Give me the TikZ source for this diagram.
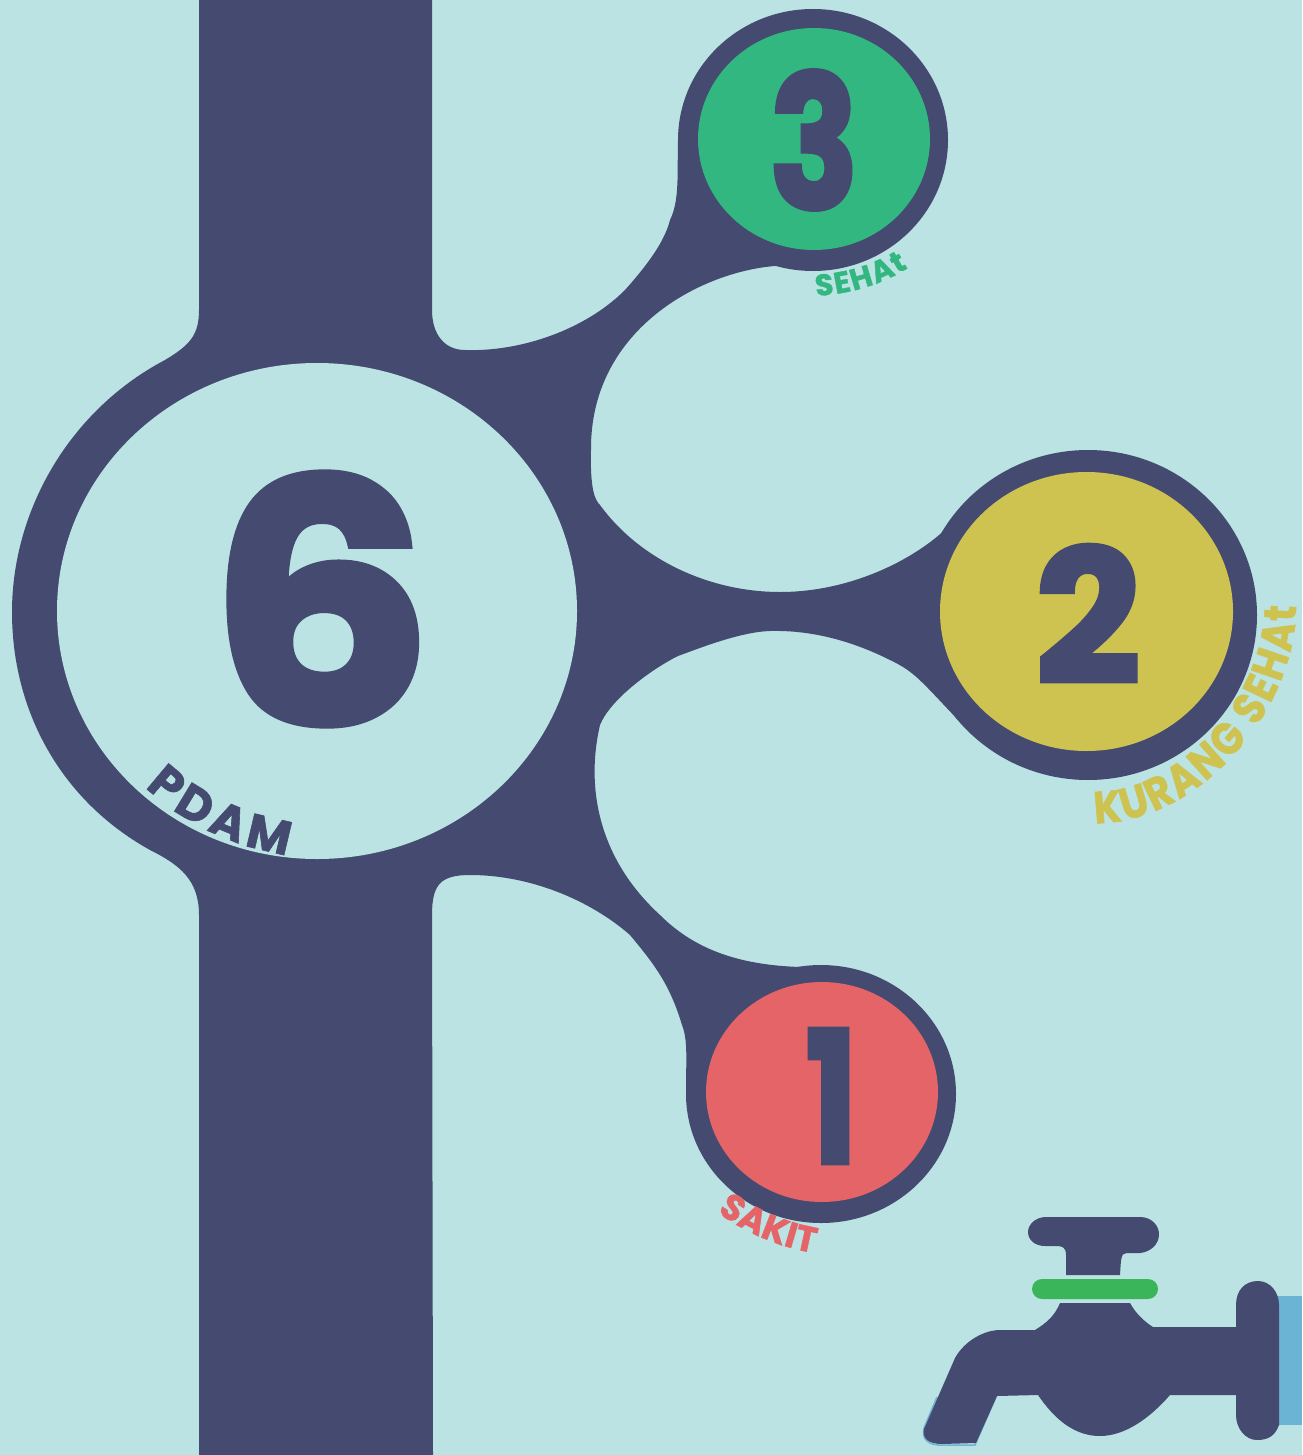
\documentclass[tikz,border=0pt]{standalone}
\usepackage{fontspec}
\setmainfont{Poppins}
\newfontfamily\digitfont[FakeBold=2.5]{Poppins}
\newfontfamily\labelfont[FakeBold=1.2]{Poppins}
\newfontfamily\narrowfont[FakeBold=1.2,FakeStretch=0.88]{Poppins}
\usetikzlibrary{decorations.text}
\definecolor{bgc}{HTML}{BBE3E3}
\definecolor{navy}{HTML}{444A70}
\definecolor{sehat}{HTML}{32B781}
\definecolor{kurang}{HTML}{CEC350}
\definecolor{sakit}{HTML}{E46468}
\definecolor{ringc}{HTML}{3AB55A}
\definecolor{pipec}{HTML}{6CB4D4}
\newcommand{\lblfont}[1]{\fontsize{#1}{#1}\selectfont\labelfont\bfseries}
\newcommand{\nrwfont}[1]{\fontsize{#1}{#1}\selectfont\narrowfont\bfseries}
\newcommand{\digfont}[1]{\fontsize{#1}{#1}\selectfont\digitfont\bfseries}

\begin{document}
\begin{tikzpicture}[
    x=1pt, y=-1pt,
    digit/.style={inner sep=0pt, text=navy},
    curved/.style={decorate, decoration={text along path, text align=fit to path, text={#1}}}
  ]
    \useasboundingbox (0,0) rectangle (1302,1455);
    \fill[bgc] (0,0) rectangle (1302,1455);
    % water pipe and branches
    \fill[navy] (199,0) -- (432,0) -- (432,310)
      .. controls (432,335) and (445,350) .. (465,350)
      .. controls (520,352) and (585,330) .. (625,290)
      .. controls (650,262) and (665,240) .. (670,220)
      .. controls (680,200) and (677,170) .. (678,140)
      -- (813,140) -- (775,266)
      .. controls (700,272) and (590,330) .. (591,450)
      .. controls (590,490) and (595,500) .. (600,505)
      .. controls (640,560) and (710,592) .. (780,592)
      .. controls (850,592) and (915,560) .. (950,525)
      -- (1088,615) -- (960,722)
      .. controls (920,680) and (915,672) .. (890,660)
      .. controls (850,640) and (810,630) .. (770,631)
      .. controls (740,632) and (700,648) .. (678,656)
      .. controls (650,670) and (610,700) .. (600,725)
      .. controls (585,790) and (600,860) .. (660,915)
      .. controls (695,950) and (740,965) .. (800,967)
      -- (821,1094) -- (686,1090)
      .. controls (686,1060) and (688,1040) .. (682,1025)
      .. controls (670,985) and (655,965) .. (630,935)
      .. controls (590,900) and (530,875) .. (470,875)
      .. controls (440,875) and (432,885) .. (432,915)
      -- (433,1455) -- (199,1455) -- (199,915)
      .. controls (199,880) and (180,865) .. (150,850)
      .. controls (60,800) and (12,710) .. (12,612)
      .. controls (12,510) and (70,410) .. (165,360)
      .. controls (190,345) and (199,335) .. (199,310) -- cycle;
    \fill[navy] (813,140) ellipse [x radius=135, y radius=131];
    \fill[navy] (1088,615) ellipse [x radius=169, y radius=165];
    \fill[navy] (821,1094) ellipse [x radius=135, y radius=129];
    % inner discs
    \fill[bgc] (317,611) ellipse [x radius=260, y radius=248];
    \fill[sehat] (814,139) ellipse [x radius=116, y radius=111];
    \fill[kurang] (1086.5,611.5) ellipse [x radius=146.5, y radius=139.5];
    \fill[sakit] (822,1092) ellipse [x radius=116, y radius=110];
    % numbers
    \node[digit, xscale=1.05] (six) at (321,599) {\digfont{335}6};
    \node[digit, xscale=0.8] (three) at (814,140) {\digfont{185}3};
    \node[digit] (two) at (1088,614) {\digfont{185}2};
    \node[digit, xscale=0.75] (one) at (831.5,1096) {\digfont{184}1};
    % curved labels
    \path[curved={|\lblfont{48}\color{navy}|PDAM}] (145,787) .. controls (185,825) and (236,847) .. (287,855);
    \path[curved={|\lblfont{30}\color{sehat}|SEHAt}] (816,296) .. controls (850,294) and (880,285) .. (908,268);
    \path[curved={|\nrwfont{45}\color{kurang}|KURANG SEHAt}] (1095,823) .. controls (1190,825) and (1295,720) .. (1296,606);
    \path[curved={|\lblfont{36}\color{sakit}|SAKIT}] (717,1212) .. controls (745,1232) and (778,1247) .. (814,1253);
    % tap
    \fill[pipec] (1270,1296) rectangle (1302,1425);
    \draw[pipec, line width=1.5pt] (996,1397) -- (975,1445) -- (938,1445) .. controls (925,1444) and (922,1436) .. (924,1428) -- (937,1397);
    \fill[navy] (1046,1217) -- (1140,1217)
      .. controls (1152,1217) and (1159,1226) .. (1159,1234)
      .. controls (1159,1245) and (1150,1252) .. (1140,1253) -- (1127,1253)
      .. controls (1121,1253) and (1121,1258) .. (1120,1275) -- (1066,1275) -- (1066,1255)
      .. controls (1066,1247) and (1062,1246) .. (1056,1246) -- (1045,1246)
      .. controls (1035,1246) and (1028,1240) .. (1028,1232)
      .. controls (1028,1224) and (1036,1217) .. (1046,1217) -- cycle;
    \fill[ringc, rounded corners=10pt] (1032,1279) rectangle (1158,1299);
    \fill[navy] (1060,1303) -- (1130,1303)
      .. controls (1136,1314) and (1145,1322) .. (1153,1327) -- (1236,1327) -- (1236,1305)
      .. controls (1236,1290) and (1245,1281) .. (1258,1281)
      .. controls (1270,1281) and (1279,1292) .. (1279,1305) -- (1279,1425)
      .. controls (1275,1436) and (1268,1440) .. (1257,1440)
      .. controls (1245,1440) and (1236,1428) .. (1236,1415) -- (1236,1395) -- (1170,1395)
      .. controls (1150,1418) and (1125,1436) .. (1100,1436)
      .. controls (1075,1436) and (1055,1420) .. (1038,1395) -- (997,1396) -- (976,1443) -- (942,1444)
      .. controls (928,1444) and (922,1438) .. (924,1429) -- (955,1358)
      .. controls (965,1340) and (985,1330) .. (1000,1330) -- (1035,1330)
      .. controls (1048,1322) and (1055,1315) .. (1060,1303) -- cycle;
  \end{tikzpicture}
\end{document}
